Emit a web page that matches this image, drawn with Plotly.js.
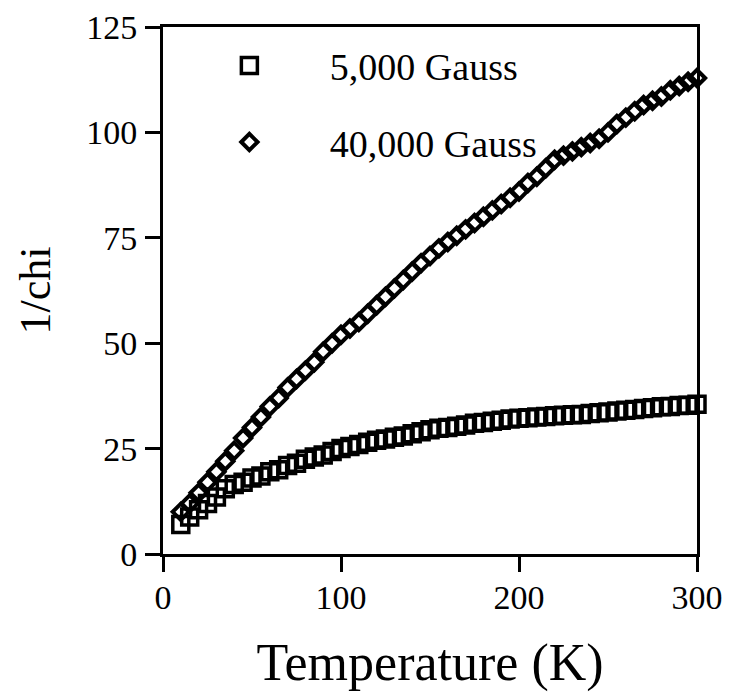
<!DOCTYPE html>
<html>
<head>
<meta charset="utf-8">
<script src="https://cdn.plot.ly/plotly-3.0.1.min.js"></script>
<style>html,body{margin:0;padding:0;background:#fff;}#chart{width:741px;height:693px;}</style>
</head>
<body>
<div id="chart"></div>
<script>
var temperature = [10,15,20,25,30,35,40,45,50,55,60,65,70,75,80,85,90,95,100,105,110,115,120,125,130,135,140,145,150,155,160,165,170,175,180,185,190,195,200,205,210,215,220,225,230,235,240,245,250,255,260,265,270,275,280,285,290,295,300];
var chi5000 = [7,8.8,10.5,12,13.5,15.5,16.5,17,18,18.5,19.5,20,21,21.5,22.5,23,23.5,24.3,25,25.5,26,26.5,27,27.3,27.7,28,28.5,29,29.5,29.8,30,30.3,30.6,31,31.2,31.5,31.7,32,32.2,32.3,32.5,32.6,32.8,32.9,33,33.1,33.3,33.5,33.7,33.9,34.1,34.3,34.5,34.7,34.9,35,35.2,35.3,35.5];
var chi40000 = [10,12,14.5,17,19.5,22,24.5,27.5,30,32.5,35,37,39.5,41.5,43.5,45.5,48,50,52,53.5,55,57,59,61,63,65,67,69,70.7,72.5,74,75.5,77,78.5,80,81.5,83,84.5,86,88,89.5,91.5,93.5,94.5,95.5,96.5,97.5,98.5,100,102,103.5,105,106.5,107.5,108.5,110,111,112,112.9];
var seriesNames = ['5,000 Gauss', '40,000 Gauss'];
var xTicks = [0,100,200,300];
var yTicks = [0,25,50,75,100,125];

var font = 'Liberation Serif, Times New Roman, serif';
var traces = [
  {x: temperature, y: chi5000, name: seriesNames[0], type: 'scatter', mode: 'markers', legendgroup: 'a',
   marker: {symbol: 'square-open', size: 16, color: '#000', line: {width: 3.5, color: '#000'}}, cliponaxis: false},
  {x: temperature, y: chi40000, name: seriesNames[1], type: 'scatter', mode: 'markers', legendgroup: 'b',
   marker: {symbol: 'diamond-open', size: 12.5, color: '#000', line: {width: 4, color: '#000'}}, cliponaxis: false}
];
var layout = {
  width: 741, height: 693,
  margin: {l: 163, r: 44, t: 27, b: 139},
  paper_bgcolor: '#fff', plot_bgcolor: '#fff',
  font: {family: font, color: '#000', size: 34},
  showlegend: true,
  legend: {x: 0.011, y: 0.986, xanchor: 'left', yanchor: 'top', bgcolor: 'rgba(0,0,0,0)',
           font: {family: font, size: 38, color: '#000'}, traceorder: 'grouped', tracegroupgap: 24,
           itemwidth: 151},
  xaxis: {range: [0, 300], tickvals: xTicks, ticktext: xTicks.map(String), ticks: 'outside', ticklen: 15, tickwidth: 3,
          tickcolor: '#000', showline: true, linewidth: 3, linecolor: '#000', mirror: true, showgrid: false, zeroline: false,
          tickfont: {family: font, size: 34}, ticklabelstandoff: -4,
          title: {text: 'Temperature (K)', font: {family: font, size: 52}, standoff: 29}},
  yaxis: {range: [0, 125], tickvals: yTicks, ticktext: yTicks.map(String), ticks: 'outside', ticklen: 15, tickwidth: 3,
          tickcolor: '#000', showline: true, linewidth: 3, linecolor: '#000', mirror: true, showgrid: false, zeroline: false,
          tickfont: {family: font, size: 34}, ticklabelstandoff: 1,
          title: {text: '1/chi', font: {family: font, size: 44}, standoff: 22}}
};
Plotly.newPlot('chart', traces, layout, {displayModeBar: false, staticPlot: true});
</script>
</body>
</html>
